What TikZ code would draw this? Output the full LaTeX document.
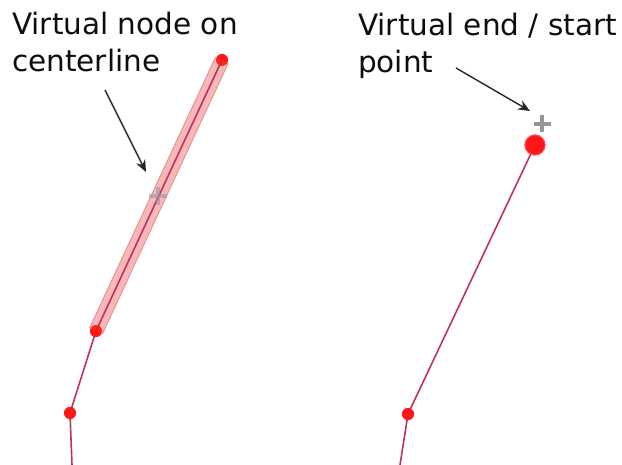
\documentclass[tikz,border=0pt]{standalone}
\usepackage{fontspec}
\setmainfont{DejaVu Sans}
\usetikzlibrary{arrows.meta}

\definecolor{segline}{RGB}{190,50,95}
\definecolor{vtxred}{RGB}{255,20,20}
\definecolor{bandfill}{RGB}{248,184,184}
\definecolor{bandedge}{RGB}{228,140,140}
\definecolor{crossgray}{RGB}{150,150,150}

\begin{document}
\begin{tikzpicture}[
  x=1pt, y=-1pt,
  every node/.style = {inner sep=0pt},
  lbl/.style        = {font=\fontsize{29.5}{37}\selectfont, align=left,
                        anchor=base west, text=black!95},
  seg/.style        = {draw=segline, line width=1.6pt},
  band/.style       = {draw=bandedge, line width=15pt, line cap=butt},
  bandin/.style     = {draw=bandfill, line width=13pt, line cap=butt},
  vtx/.style        = {circle, fill=vtxred, fill opacity=0.9, minimum size=12pt},
  endvtx/.style     = {circle, fill=vtxred, draw=red!70, line width=1pt,
                        fill opacity=0.9, minimum size=20pt},
  vcross/.style     = {draw=crossgray, line width=3.5pt},
  pointer/.style    = {-{Stealth[length=12pt, width=10pt, inset=4pt]},
                        line width=1.4pt, black!85},
]
\useasboundingbox (0,0) rectangle (622,465);

% -- left: virtual node on centerline --------------------------------------
\coordinate (L0) at (72,465);
\node[vtx] (L1) at (70,413) {};
\node[vtx] (L2) at (96,331) {};
\node[vtx] (L3) at (222,60) {};

\draw[band]   (L2.center) -- (L3.center);
\draw[bandin] (L2.center) -- (L3.center);
\draw[seg] (L0) -- (L1.center) -- (L2.center) -- (L3.center);
\node[vtx] at (L1) {};
\node[vtx] at (L2) {};
\node[vtx] at (L3) {};

% virtual node cross
\coordinate (Lmid) at (158,196);
\draw[vcross, opacity=0.6] ([xshift=-9pt]Lmid) -- ([xshift=9pt]Lmid)
                           ([yshift=-9pt]Lmid) -- ([yshift=9pt]Lmid);

\node[lbl] (Ltxt) at (12,72) {Virtual node on\\centerline};
\coordinate (Ltail) at (105,90);
\coordinate (Lhead) at (146,172);
\draw[pointer] (Ltail) -- (Lhead);

% -- right: virtual end / start point --------------------------------------
\coordinate (R0) at (400,465);
\node[vtx] (R1) at (408,414) {};
\node[endvtx] (R2) at (535,145) {};

\draw[seg] (R0) -- (R1.center) -- (R2.center);
\node[vtx] at (R1) {};
\node[endvtx] at (R2) {};

% virtual end cross
\coordinate (Rend) at (542,124);
\draw[vcross] ([xshift=-8.5pt]Rend) -- ([xshift=8.5pt]Rend)
              ([yshift=-8.5pt]Rend) -- ([yshift=8.5pt]Rend);

\node[lbl] (Rtxt) at (358,73) {Virtual end / start\\point};
\coordinate (Rtail) at (456,68);
\coordinate (Rhead) at (530,111);
\draw[pointer] (Rtail) -- (Rhead);

\end{tikzpicture}
\end{document}
